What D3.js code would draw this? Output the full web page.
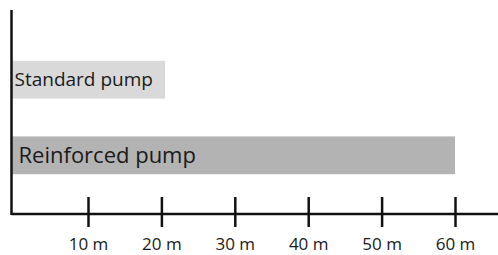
<!DOCTYPE html>
<html><head><meta charset="utf-8">
<script src="https://cdn.jsdelivr.net/npm/d3@7"></script>
<style>html,body{margin:0;padding:0;background:#fff;}svg{display:block;}</style>
</head><body>
<svg id="c" width="498" height="255"></svg>
<script>
const categories = ["Standard pump", "Reinforced pump"];
const values = [20.5, 60];
const tickValues = [10, 20, 30, 40, 50, 60];
const tickLabels = ["10 m", "20 m", "30 m", "40 m", "50 m", "60 m"];

// styles (not data)
const barColors = ["#d9d9d9", "#b3b3b3"];
const labelSizes = [19, 22];
const font = "'Open Sans', 'Noto Sans', sans-serif";

const svg = d3.select("#c");
const axisX = 11.5, axisY = 214;

const x = d3.scaleLinear().domain([0, 60]).range([14.6, 455]);
const y = d3.scaleBand().domain(categories).range([23, 212]).paddingInner(0.5).paddingOuter(0.5);

// bars
svg.selectAll("rect.bar").data(categories).join("rect")
  .attr("class", "bar")
  .attr("x", axisX)
  .attr("y", d => y(d))
  .attr("width", (d, i) => x(values[i]) - axisX)
  .attr("height", y.bandwidth())
  .attr("fill", (d, i) => barColors[i]);

// bar labels
svg.selectAll("text.lab").data(categories).join("text")
  .attr("class", "lab")
  .attr("x", (d, i) => axisX + (i === 0 ? 3 : 7))
  .attr("y", (d, i) => y(d) + y.bandwidth() / 2 + (i === 0 ? 6.5 : 7.5))
  .attr("font-family", font)
  .attr("font-size", (d, i) => labelSizes[i])
  .attr("fill", "#1a1a1a")
  .text(d => d);

// axes lines
svg.append("line").attr("x1", axisX).attr("x2", axisX).attr("y1", 10).attr("y2", axisY + 1)
  .attr("stroke", "#111").attr("stroke-width", 2.5);
svg.append("line").attr("x1", axisX).attr("x2", 498).attr("y1", axisY).attr("y2", axisY)
  .attr("stroke", "#111").attr("stroke-width", 2.5);

// ticks via d3 axis
const ax = d3.axisBottom(x).tickValues(tickValues).tickFormat((d, i) => tickLabels[i]).tickSize(0);
const g = svg.append("g").attr("transform", `translate(0,${axisY})`).call(ax);
g.select(".domain").remove();
g.selectAll(".tick line").remove();
g.selectAll(".tick").append("line")
  .attr("y1", -17).attr("y2", 13)
  .attr("stroke", "#111").attr("stroke-width", 2.5);
g.selectAll(".tick text")
  .attr("y", 36).attr("dy", 0)
  .attr("font-family", font).attr("font-size", 17).attr("fill", "#1a1a1a");
</script>
</body></html>
